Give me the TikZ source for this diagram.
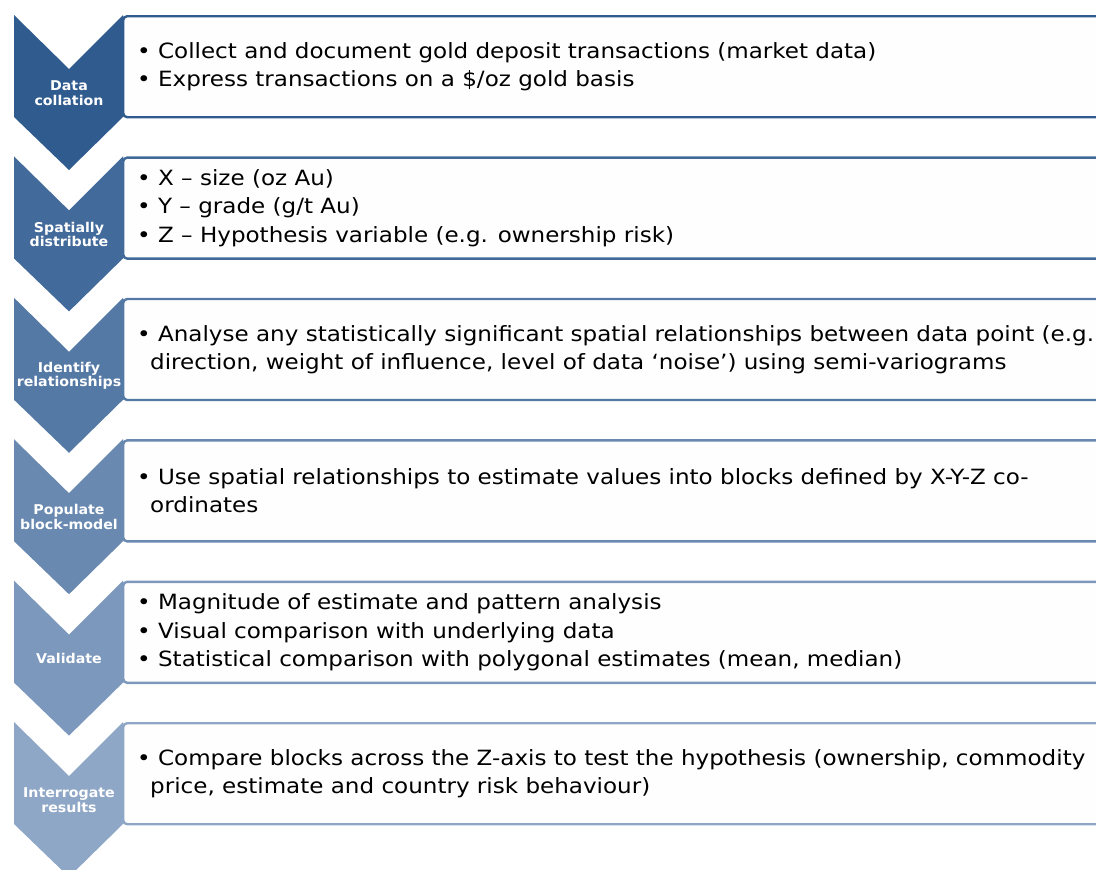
\documentclass[tikz,border=0pt]{standalone}
\usepackage{fontspec}
\setmainfont{DejaVu Sans}
\newfontfamily\bodyfont[FakeStretch=1.097]{DejaVu Sans}
\newfontfamily\labelfont[FakeStretch=1.05]{DejaVu Sans}
\usepackage{tikz}
\usetikzlibrary{calc}

\definecolor{darkstage}{HTML}{2F5B8E}
\definecolor{lightstage}{HTML}{8FA7C7}

\begin{document}
\begin{tikzpicture}[x=1pt,y=-1pt,
    stagebox/.style={draw,line width=2.4pt,fill=white!99!gray,rounded corners=4pt,
      minimum width=978pt,minimum height=101pt,anchor=north west,inner sep=0pt},
    stagelabel/.style={text=white,font=\labelfont\bfseries\fontsize{13.5}{14.5}\selectfont,align=center},
    bullets/.style={anchor=west,align=left,font=\bodyfont\fontsize{21}{28.5}\selectfont,inner sep=0pt}]
  \useasboundingbox (0,0) rectangle (1096,870);
  \clip (0,0) rectangle (1096,870);
  \foreach \i/\lab in {0/{Data\\collation},1/{Spatially\\distribute},2/{Identify\\relationships},
      3/{Populate\\block-model},4/{Validate},5/{Interrogate\\results}}{% one stage per row
    \pgfmathsetmacro\ytop{15+141.4*\i}
    \pgfmathtruncatemacro\mix{100-20*\i}
    \colorlet{stagecol}{darkstage!\mix!lightstage}
    \node[stagebox,draw=stagecol] (box\i) at (122,\ytop) {};
    \fill[stagecol] (14,\ytop) -- (69,\ytop+54) -- (123,\ytop) -- (123,\ytop+102)
        -- (69,\ytop+155) -- (14,\ytop+102) -- cycle;% chevron
    \node[stagelabel] (lab\i) at (69,\ytop+78) {\lab};
  }
  \node[bullets] (txt0) at ([xshift=15pt]box0.west) {• Collect and document gold deposit transactions (market data)\\
    • Express transactions on a \$/oz gold basis};
  \node[bullets] (txt1) at ([xshift=15pt]box1.west) {• X – size (oz Au)\\
    • Y – grade (g/t Au)\\
    • Z – Hypothesis variable (e.g. ownership risk)};
  \node[bullets] (txt2) at ([xshift=15pt]box2.west) {• Analyse any statistically significant spatial relationships between data point (e.g.\\
    \hspace*{13pt}direction, weight of influence, level of data ‘noise’) using semi-variograms};
  \node[bullets] (txt3) at ([xshift=15pt]box3.west) {• Use spatial relationships to estimate values into blocks defined by X-Y-Z co-\\
    \hspace*{13pt}ordinates};
  \node[bullets] (txt4) at ([xshift=15pt]box4.west) {• Magnitude of estimate and pattern analysis\\
    • Visual comparison with underlying data\\
    • Statistical comparison with polygonal estimates (mean, median)};
  \node[bullets] (txt5) at ([xshift=15pt]box5.west) {• Compare blocks across the Z-axis to test the hypothesis (ownership, commodity\\
    \hspace*{13pt}price, estimate and country risk behaviour)};
\end{tikzpicture}
\end{document}
